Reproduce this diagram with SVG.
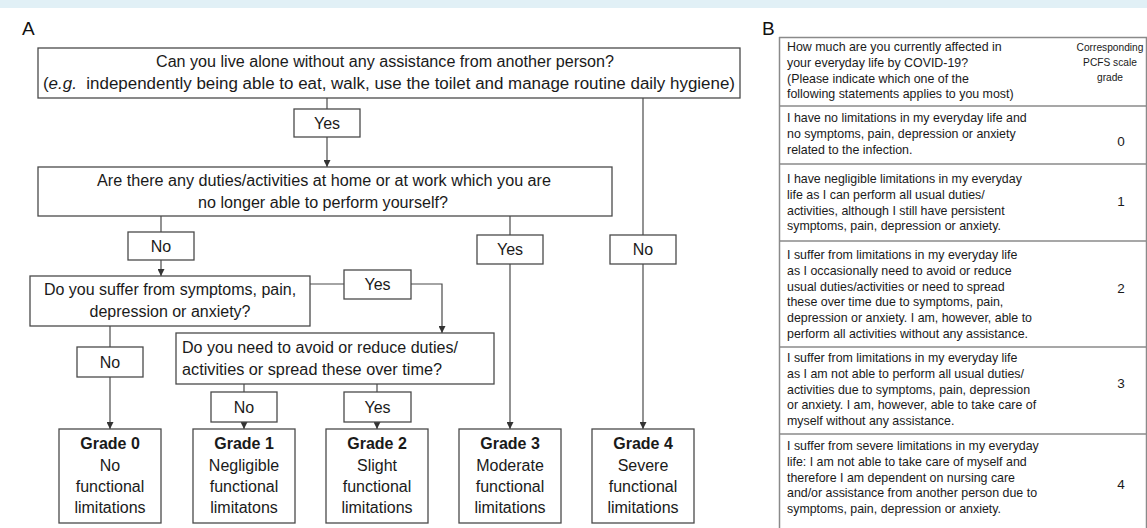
<svg xmlns="http://www.w3.org/2000/svg" width="1147" height="528" viewBox="0 0 1147 528">
<style>
.box{fill:#fff;stroke:#4a4a4a;stroke-width:1.3}
.t{font-family:"Liberation Sans",Arial,sans-serif;font-size:16px;fill:#1a1a1a}
.c{text-anchor:middle}
.b{font-weight:bold}
.edge{stroke:#4a4a4a;stroke-width:1.2;fill:none}
.tb{font-family:"Liberation Sans",Arial,sans-serif;font-size:12.4px;fill:#1a1a1a}
.sm{font-size:10.2px;text-anchor:middle}
.num{font-size:13.5px;text-anchor:middle}
.grid{stroke:#8a8a8a;stroke-width:1.5;fill:none}
.lbl{font-family:"Liberation Sans",Arial,sans-serif;font-size:19px;fill:#111}
</style>
<defs>
<marker id="ah" markerWidth="7" markerHeight="7" refX="7" refY="3.5" orient="auto" markerUnits="userSpaceOnUse">
<path d="M0,0 L7,3.5 L0,7 z" fill="#333"/>
</marker>
</defs>
<rect x="0" y="0" width="1147" height="8" fill="#e1f0f6"/>
<text class="lbl" x="22" y="35">A</text>
<text class="lbl" x="762" y="35">B</text>

<g id="connectors">
<path class="edge" d="M327,98 V109"/>
<path class="edge" d="M327,137 V167" marker-end="url(#ah)"/>
<path class="edge" d="M643,98 V235"/>
<path class="edge" d="M643,264 V429" marker-end="url(#ah)"/>
<path class="edge" d="M161,216 V232"/>
<path class="edge" d="M161,260 V276" marker-end="url(#ah)"/>
<path class="edge" d="M510,216 V235"/>
<path class="edge" d="M510,264 V429" marker-end="url(#ah)"/>
<path class="edge" d="M310,284 H344"/>
<path class="edge" d="M411,284 H442 V333" marker-end="url(#ah)"/>
<path class="edge" d="M110,326 V347"/>
<path class="edge" d="M110,377 V429" marker-end="url(#ah)"/>
<path class="edge" d="M244,384 V392"/>
<path class="edge" d="M244,422 V429" marker-end="url(#ah)"/>
<path class="edge" d="M377,384 V392"/>
<path class="edge" d="M377,422 V429" marker-end="url(#ah)"/>
</g>

<g id="q1">
<rect class="box" x="38" y="48" width="702" height="50"/>
<text class="t c" x="385" y="67" textLength="458" lengthAdjust="spacingAndGlyphs">Can you live alone without any assistance from another person?</text>
<text class="t c" x="389" y="89" textLength="692" lengthAdjust="spacingAndGlyphs">(<tspan font-style="italic">e.g.</tspan>&#160; independently being able to eat, walk, use the toilet and manage routine daily hygiene)</text>
</g>
<g id="q1-yes">
<rect class="box" x="294" y="109" width="66" height="28"/>
<text class="t c" x="327" y="129">Yes</text>
</g>
<g id="q1-no">
<rect class="box" x="610" y="235" width="66" height="29"/>
<text class="t c" x="643" y="255">No</text>
</g>

<g id="q2">
<rect class="box" x="38" y="167" width="574" height="49"/>
<text class="t c" x="324" y="186" textLength="454" lengthAdjust="spacingAndGlyphs">Are there any duties/activities at home or at work which you are</text>
<text class="t c" x="323" y="208" textLength="250" lengthAdjust="spacingAndGlyphs">no longer able to perform yourself?</text>
</g>
<g id="q2-no">
<rect class="box" x="128" y="232" width="66" height="28"/>
<text class="t c" x="161" y="252">No</text>
</g>
<g id="q2-yes">
<rect class="box" x="477" y="235" width="66" height="29"/>
<text class="t c" x="510" y="255">Yes</text>
</g>

<g id="q3">
<rect class="box" x="30" y="276" width="280" height="50"/>
<text class="t c" x="170" y="295">Do you suffer from symptoms, pain,</text>
<text class="t c" x="170" y="317">depression or anxiety?</text>
</g>
<g id="q3-yes">
<rect class="box" x="344" y="270" width="67" height="29"/>
<text class="t c" x="377.5" y="290">Yes</text>
</g>
<g id="q3-no">
<rect class="box" x="77" y="347" width="66" height="30"/>
<text class="t c" x="110" y="368">No</text>
</g>

<g id="q4">
<rect class="box" x="176" y="333" width="318" height="51"/>
<text class="t" x="182" y="353" textLength="276" lengthAdjust="spacingAndGlyphs">Do you need to avoid or reduce duties/</text>
<text class="t" x="182" y="375" textLength="260" lengthAdjust="spacingAndGlyphs">activities or spread these over time?</text>
</g>
<g id="q4-no">
<rect class="box" x="211" y="392" width="66" height="30"/>
<text class="t c" x="244" y="413">No</text>
</g>
<g id="q4-yes">
<rect class="box" x="344" y="392" width="67" height="30"/>
<text class="t c" x="377.5" y="413">Yes</text>
</g>

<g id="grade0">
<rect class="box" x="59" y="429" width="102" height="94"/>
<text class="t c b" x="110" y="449">Grade 0</text>
<text class="t c" x="110" y="470.5">No</text>
<text class="t c" x="110" y="492">functional</text>
<text class="t c" x="110" y="513">limitations</text>
</g>
<g id="grade1">
<rect class="box" x="193" y="429" width="102" height="94"/>
<text class="t c b" x="244" y="449">Grade 1</text>
<text class="t c" x="244" y="470.5">Negligible</text>
<text class="t c" x="244" y="492">functional</text>
<text class="t c" x="244" y="513">limitatons</text>
</g>
<g id="grade2">
<rect class="box" x="326" y="429" width="102" height="94"/>
<text class="t c b" x="377" y="449">Grade 2</text>
<text class="t c" x="377" y="470.5">Slight</text>
<text class="t c" x="377" y="492">functional</text>
<text class="t c" x="377" y="513">limitations</text>
</g>
<g id="grade3">
<rect class="box" x="459" y="429" width="102" height="94"/>
<text class="t c b" x="510" y="449">Grade 3</text>
<text class="t c" x="510" y="470.5">Moderate</text>
<text class="t c" x="510" y="492">functional</text>
<text class="t c" x="510" y="513">limitations</text>
</g>
<g id="grade4">
<rect class="box" x="592" y="429" width="102" height="94"/>
<text class="t c b" x="643" y="449">Grade 4</text>
<text class="t c" x="643" y="470.5">Severe</text>
<text class="t c" x="643" y="492">functional</text>
<text class="t c" x="643" y="513">limitations</text>
</g>

<g id="table">
<path class="grid" d="M779.5,37 V528 M1146.5,37 V528 M779,37.5 H1147 M779,106 H1147 M779,164 H1147 M779,241 H1147 M779,347 H1147 M779,434 H1147"/>
<g id="row-header" class="tb">
<text x="787" y="51">How much are you currently affected in</text>
<text x="787" y="66.8">your everyday life by COVID-19?</text>
<text x="787" y="82.6">(Please indicate which one of the</text>
<text x="787" y="98.4">following statements applies to you most)</text>
<text class="sm" x="1110" y="51">Corresponding</text>
<text class="sm" x="1110" y="66">PCFS scale</text>
<text class="sm" x="1110" y="81">grade</text>
</g>
<g id="row-0" class="tb">
<text x="787" y="122">I have no limitations in my everyday life and</text>
<text x="787" y="137.8">no symptoms, pain, depression or anxiety</text>
<text x="787" y="153.6">related to the infection.</text>
<text class="num" x="1121" y="146">0</text>
</g>
<g id="row-1" class="tb">
<text x="787" y="183">I have negligible limitations in my everyday</text>
<text x="787" y="198.8">life as I can perform all usual duties/</text>
<text x="787" y="214.6">activities, although I still have persistent</text>
<text x="787" y="230.4">symptoms, pain, depression or anxiety.</text>
<text class="num" x="1121" y="206">1</text>
</g>
<g id="row-2" class="tb">
<text x="787" y="259">I suffer from limitations in my everyday life</text>
<text x="787" y="274.8">as I occasionally need to avoid or reduce</text>
<text x="787" y="290.6">usual duties/activities or need to spread</text>
<text x="787" y="306.4">these over time due to symptoms, pain,</text>
<text x="787" y="322.2">depression or anxiety. I am, however, able to</text>
<text x="787" y="338">perform all activities without any assistance.</text>
<text class="num" x="1121" y="293">2</text>
</g>
<g id="row-3" class="tb">
<text x="787" y="362">I suffer from limitations in my everyday life</text>
<text x="787" y="377.8">as I am not able to perform all usual duties/</text>
<text x="787" y="393.6">activities due to symptoms, pain, depression</text>
<text x="787" y="409.4">or anxiety. I am, however, able to take care of</text>
<text x="787" y="425.2">myself without any assistance.</text>
<text class="num" x="1121" y="388">3</text>
</g>
<g id="row-4" class="tb">
<text x="787" y="450">I suffer from severe limitations in my everyday</text>
<text x="787" y="465.8">life: I am not able to take care of myself and</text>
<text x="787" y="481.6">therefore I am dependent on nursing care</text>
<text x="787" y="497.4">and/or assistance from another person due to</text>
<text x="787" y="513.2">symptoms, pain, depression or anxiety.</text>
<text class="num" x="1121" y="489">4</text>
</g>
</g>
</svg>
